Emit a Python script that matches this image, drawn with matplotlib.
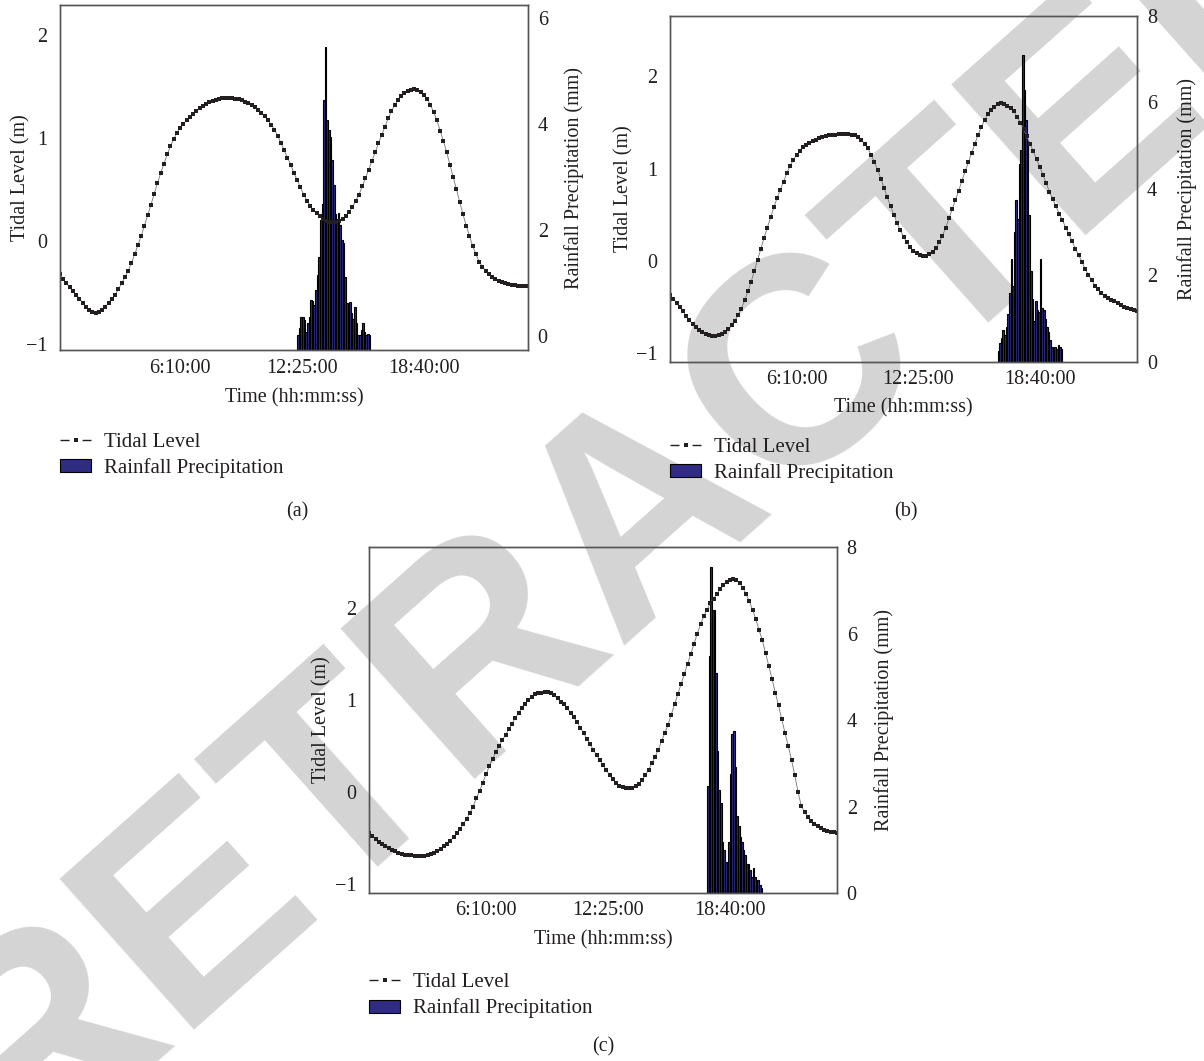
import numpy as np
import matplotlib
matplotlib.use("Agg")
import matplotlib.pyplot as plt
from matplotlib.lines import Line2D
from matplotlib.patches import Patch

plt.rcParams['font.family'] = ['Liberation Serif', 'DejaVu Serif']
plt.rcParams['axes.unicode_minus'] = True

TXT = '#231f20'
BAR = '#2f2c82'

# ---- data (minutes from start of day) ----
# tidal level every 10 min (m)
tide_start = {'a': 0, 'b': -20, 'c': 10}
tide_a = [-0.32, -0.37, -0.41, -0.45, -0.49, -0.52, -0.56, -0.60, -0.64, -0.67,
          -0.69, -0.70, -0.69, -0.67, -0.64, -0.60, -0.56, -0.52, -0.47, -0.41,
          -0.35, -0.29, -0.21, -0.13, -0.04, 0.05, 0.15, 0.25, 0.35, 0.46,
          0.56, 0.66, 0.75, 0.84, 0.92, 0.99, 1.05, 1.10, 1.14, 1.17,
          1.20, 1.23, 1.26, 1.29, 1.31, 1.33, 1.35, 1.36, 1.37, 1.38,
          1.39, 1.39, 1.39, 1.39, 1.38, 1.38, 1.37, 1.35, 1.34, 1.32,
          1.30, 1.27, 1.24, 1.21, 1.17, 1.13, 1.08, 1.02, 0.95, 0.88,
          0.81, 0.74, 0.66, 0.59, 0.52, 0.45, 0.39, 0.34, 0.30, 0.27,
          0.24, 0.21, 0.19, 0.18, 0.18, 0.18, 0.19, 0.21, 0.24, 0.28,
          0.33, 0.39, 0.45, 0.53, 0.61, 0.69, 0.78, 0.86, 0.95, 1.03,
          1.11, 1.19, 1.26, 1.32, 1.37, 1.41, 1.44, 1.46, 1.47, 1.48,
          1.47, 1.45, 1.42, 1.38, 1.32, 1.25, 1.17, 1.07, 0.97, 0.86,
          0.74, 0.62, 0.50, 0.38, 0.26, 0.15, 0.05, -0.05, -0.13, -0.20,
          -0.25, -0.29, -0.32, -0.35, -0.37, -0.39, -0.40, -0.41, -0.42, -0.43,
          -0.43, -0.44, -0.44, -0.44, -0.44]
tide_b = [-0.37, -0.41, -0.46, -0.50, -0.55, -0.60, -0.64, -0.69, -0.72, -0.75,
          -0.77, -0.79, -0.81, -0.82, -0.82, -0.81, -0.79, -0.77, -0.74, -0.70,
          -0.65, -0.59, -0.52, -0.43, -0.33, -0.23, -0.11, 0.01, 0.13, 0.25,
          0.36, 0.47, 0.58, 0.68, 0.77, 0.86, 0.95, 1.03, 1.09, 1.15,
          1.19, 1.23, 1.26, 1.28, 1.30, 1.31, 1.33, 1.34, 1.35, 1.36,
          1.37, 1.37, 1.38, 1.38, 1.38, 1.38, 1.37, 1.36, 1.34, 1.31,
          1.27, 1.22, 1.15, 1.07, 0.99, 0.89, 0.79, 0.69, 0.59, 0.50,
          0.41, 0.33, 0.26, 0.20, 0.15, 0.11, 0.08, 0.06, 0.05, 0.05,
          0.07, 0.10, 0.14, 0.20, 0.27, 0.36, 0.46, 0.56, 0.66, 0.76,
          0.87, 0.97, 1.07, 1.17, 1.27, 1.37, 1.45, 1.53, 1.59, 1.64,
          1.67, 1.70, 1.71, 1.70, 1.68, 1.66, 1.62, 1.56, 1.50, 1.43,
          1.35, 1.27, 1.19, 1.10, 1.02, 0.93, 0.84, 0.75, 0.67, 0.59,
          0.51, 0.44, 0.36, 0.29, 0.21, 0.13, 0.06, -0.01, -0.09, -0.15,
          -0.21, -0.27, -0.31, -0.35, -0.38, -0.40, -0.42, -0.44, -0.46, -0.48,
          -0.50, -0.51, -0.52, -0.53, -0.54]
tide_c = [-0.45, -0.48, -0.51, -0.54, -0.57, -0.59, -0.61, -0.63, -0.64, -0.66,
          -0.67, -0.68, -0.69, -0.69, -0.70, -0.70, -0.70, -0.70, -0.69, -0.67,
          -0.66, -0.64, -0.62, -0.59, -0.56, -0.53, -0.49, -0.45, -0.40, -0.35,
          -0.29, -0.23, -0.16, -0.07, 0.01, 0.10, 0.19, 0.28, 0.36, 0.43,
          0.50, 0.56, 0.62, 0.68, 0.74, 0.80, 0.86, 0.91, 0.96, 1.00,
          1.03, 1.06, 1.07, 1.08, 1.09, 1.09, 1.07, 1.05, 1.02, 0.98,
          0.95, 0.91, 0.86, 0.81, 0.76, 0.70, 0.64, 0.58, 0.52, 0.46,
          0.40, 0.35, 0.29, 0.24, 0.18, 0.14, 0.10, 0.07, 0.05, 0.04,
          0.04, 0.04, 0.06, 0.09, 0.13, 0.18, 0.24, 0.31, 0.38, 0.46,
          0.55, 0.64, 0.73, 0.84, 0.95, 1.06, 1.17, 1.28, 1.39, 1.50,
          1.61, 1.72, 1.82, 1.91, 1.98, 2.05, 2.10, 2.15, 2.20, 2.25,
          2.28, 2.30, 2.31, 2.30, 2.27, 2.22, 2.15, 2.07, 1.98, 1.88,
          1.76, 1.65, 1.51, 1.37, 1.23, 1.08, 0.94, 0.79, 0.64, 0.50,
          0.35, 0.18, 0.00, -0.15, -0.22, -0.27, -0.32, -0.35, -0.37, -0.39,
          -0.41, -0.42, -0.43, -0.44, -0.45]

# rainfall every 5 min (mm)
rain_start = {'a': 730, 'b': 990, 'c': 1050}
rain_a = [0.02, 0.15, 0.36, 0.37, 0.30, 0.08, 0.24, 0.36, 0.68, 0.67,
          0.58, 0.87, 1.15, 1.50, 2.19, 2.50, 4.45, 5.46, 4.08, 3.89,
          3.76, 3.32, 2.85, 2.31, 2.16, 2.33, 2.09, 1.81, 1.75, 1.12,
          0.62, 0.55, 0.65, 0.43, 0.33, 0.55, 0.24, 0.02, 0.02, 0.11,
          0.24, 0.08, 0.02, 0.04, 0.02]
rain_b = [0.25, 0.45, 0.55, 0.75, 0.62, 0.80, 1.10, 1.60, 2.38, 1.75,
          3.00, 3.75, 3.30, 4.58, 4.90, 7.09, 6.29, 5.58, 5.10, 3.40,
          2.10, 1.45, 0.95, 1.40, 1.20, 1.15, 2.38, 1.25, 1.20, 1.00,
          0.80, 0.70, 0.50, 0.35, 0.30, 0.35, 0.30, 0.40, 0.35, 0.30]
rain_c = [2.48, 5.47, 7.54, 6.54, 6.54, 5.09, 3.29, 2.38, 2.08, 1.18,
          0.99, 0.72, 0.47, 1.18, 2.75, 3.67, 3.75, 2.91, 1.79, 1.56,
          1.30, 1.18, 0.99, 0.87, 0.68, 0.68, 0.53, 0.38, 0.57, 0.38,
          0.30, 0.30, 0.18, 0.11]

xtick_pos = [370, 745, 1120]
xtick_lab = ['6:10:00', '12:25:00', '18:40:00']

fig = plt.figure(figsize=(12.04, 10.61), dpi=100)

# watermark behind everything
fig.text(0.535, 0.519, 'RETRACTED', rotation=41.7, ha='center', va='center',
         fontsize=212, fontweight='bold', family='Liberation Sans',
         color='#d4d4d4', zorder=-10)

panels = [
    # key, rect, xlim, left ylim, right ylim, right ticks,
    # (left ylabel x, right ylabel x, xlabel y, legend y), tag pos
    ('a', [0.0498, 0.6697, 0.3887, 0.3252], (0, 1440), (-1.063, 2.287), (-0.27, 6.24), [0, 2, 4, 6],
     (-0.064, 1.077, -0.109, -0.238), (297, 512)),
    ('b', [0.5565, 0.6588, 0.3879, 0.3265], (-20, 1420), (-1.098, 2.66), (0, 8.0), [0, 2, 4, 6, 8],
     (-0.079, 1.086, -0.105, -0.219), (906, 512)),
    ('c', [0.3065, 0.1583, 0.3887, 0.3261], (10, 1450), (-1.098, 2.66), (0, 8.0), [0, 2, 4, 6, 8],
     (-0.081, 1.079, -0.107, -0.232), (603, 1047)),
]
tides = {'a': tide_a, 'b': tide_b, 'c': tide_c}
rains = {'a': rain_a, 'b': rain_b, 'c': rain_c}

for key, rect, xlim, ylim_l, ylim_r, rticks, lab, tag in panels:
    ax = fig.add_axes(rect)
    ax2 = ax.twinx()
    ax.set_zorder(ax2.get_zorder() + 1)
    ax.patch.set_visible(False)
    ax2.patch.set_visible(False)

    tide = np.array(tides[key])
    tt = tide_start[key] + 10 * np.arange(len(tide))
    rain = np.array(rains[key])
    rt = rain_start[key] + 5 * np.arange(len(rain))

    ax2.bar(rt, rain - ylim_r[0], width=5, bottom=ylim_r[0], align='edge',
            color=BAR, edgecolor='black', linewidth=0.8)
    ax.plot(tt, tide, color='#777777', lw=0.6, marker='s', markersize=2.3,
            markerfacecolor=TXT, markeredgecolor=TXT, markeredgewidth=0)

    ax.set_xlim(*xlim)
    ax.set_ylim(*ylim_l)
    ax2.set_ylim(*ylim_r)
    ax.set_xticks(xtick_pos)
    ax.set_xticklabels(xtick_lab)
    ax.set_yticks([-1, 0, 1, 2])
    ax2.set_yticks(rticks)

    for a in (ax, ax2):
        a.tick_params(length=0, labelsize=14.5, colors=TXT)
        for s in a.spines.values():
            s.set_color('#555555')
            s.set_linewidth(1.0)
    ax.tick_params(axis='y', pad=9)
    ax.tick_params(axis='x', pad=6)
    ax2.tick_params(axis='y', pad=7)

    ax.set_ylabel('Tidal Level (m)', fontsize=14.5, color=TXT)
    ax2.set_ylabel('Rainfall Precipitation (mm)', fontsize=14.5, color=TXT)
    ax.set_xlabel('Time (hh:mm:ss)', fontsize=14.5, color=TXT)
    ax.yaxis.set_label_coords(lab[0], 0.5)
    ax2.yaxis.set_label_coords(lab[1], 0.5)
    ax.xaxis.set_label_coords(0.5, lab[2])

    handles = [Line2D([], [], color=TXT, lw=1.0, ls=(0, (6.5, 9.4)), marker='s',
                      markersize=3.5, markerfacecolor=TXT, markeredgewidth=0),
               Patch(facecolor=BAR, edgecolor='black', linewidth=0.8)]
    ax.legend(handles, ['Tidal Level', 'Rainfall Precipitation'],
              loc='upper left', bbox_to_anchor=(0.0, lab[3]), frameon=False,
              prop={'size': 15}, borderaxespad=0, borderpad=0, handlelength=1.5,
              handleheight=0.6, handletextpad=0.6, labelspacing=0.3,
              labelcolor=TXT)

    fig.text(tag[0] / 1204, 1 - tag[1] / 1061, '(%s)' % key, ha='center',
             va='center', fontsize=14.5, color=TXT)

fig.savefig('out.png', dpi=100, facecolor='white')
